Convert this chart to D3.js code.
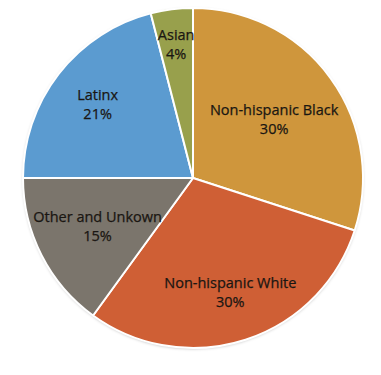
<!DOCTYPE html>
<html>
<head>
<meta charset="utf-8">
<script src="https://cdn.jsdelivr.net/npm/d3@7"></script>
<style>
  html, body { margin: 0; padding: 0; background: #fff; }
  svg { display: block; }
</style>
</head>
<body>
<div id="chart"></div>
<script>
// Data
const categories = ["Non-hispanic Black", "Non-hispanic White", "Other and Unkown", "Latinx", "Asian"];
const values = [30, 30, 15, 21, 4];
const colors = ["#cf963c", "#cf5f35", "#7b756c", "#5b9bd0", "#98a04c"];

// label distance from centre, as fraction of radius (layout only)
const labelRadius = [0.59, 0.71, 0.63, 0.71, 0.79];

const width = 381, height = 375;
const cx = 193, cy = 178, radius = 170;

const svg = d3.select("#chart")
    .append("svg")
    .attr("width", width)
    .attr("height", height);

const defs = svg.append("defs");
const shadow = defs.append("filter")
    .attr("id", "shadow")
    .attr("x", "-10%").attr("y", "-10%")
    .attr("width", "120%").attr("height", "120%");
shadow.append("feDropShadow")
    .attr("dx", 0).attr("dy", 1)
    .attr("stdDeviation", 1.5)
    .attr("flood-color", "#000")
    .attr("flood-opacity", 0.25);

const g = svg.append("g")
    .attr("transform", `translate(${cx},${cy})`);

const pie = d3.pie()
    .sort(null)
    .value(d => d.value);

const data = categories.map((c, i) => ({ name: c, value: values[i], color: colors[i], lr: labelRadius[i] }));
const arcs = pie(data);

const arc = d3.arc()
    .innerRadius(0)
    .outerRadius(radius);

// outer shadow disc
g.append("circle")
    .attr("r", radius)
    .attr("fill", "#fff")
    .attr("filter", "url(#shadow)");

g.selectAll("path.slice")
    .data(arcs)
    .enter()
    .append("path")
    .attr("class", "slice")
    .attr("d", arc)
    .attr("fill", d => d.data.color)
    .attr("stroke", "#fff")
    .attr("stroke-width", 2)
    .attr("stroke-linejoin", "round");

const total = d3.sum(values);

const labels = g.selectAll("text.lbl")
    .data(arcs)
    .enter()
    .append("text")
    .attr("class", "lbl")
    .attr("transform", d => {
        const r = radius * d.data.lr;
        const a = (d.startAngle + d.endAngle) / 2;
        return `translate(${Math.sin(a) * r},${-Math.cos(a) * r})`;
    })
    .attr("text-anchor", "middle")
    .attr("font-family", "'Open Sans', 'Noto Sans', sans-serif")
    .attr("font-size", "14.5px")
    .attr("fill", "#1a1612")
    .attr("stroke", "#1a1612")
    .attr("stroke-width", 0.25);

labels.append("tspan")
    .attr("x", 0)
    .attr("dy", "-0.3em")
    .text(d => d.data.name);

labels.append("tspan")
    .attr("x", 0)
    .attr("dy", "1.3em")
    .text(d => Math.round(d.data.value / total * 100) + "%");
</script>
</body>
</html>
